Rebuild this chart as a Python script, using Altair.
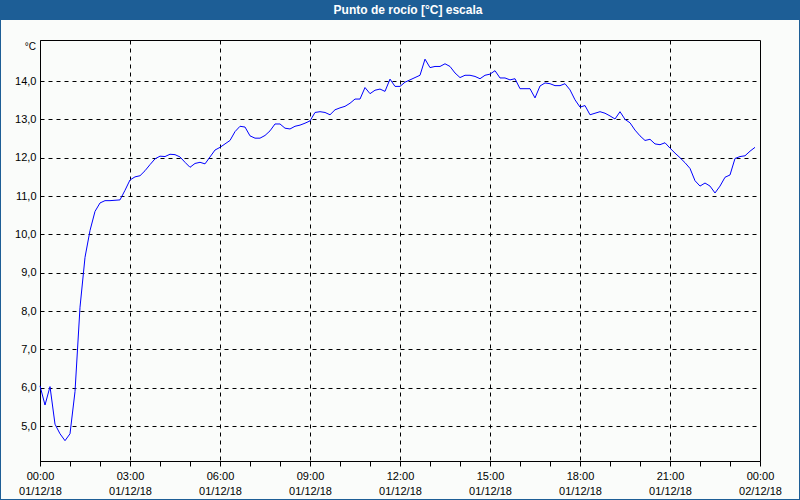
import altair as alt
import pandas as pd

# Time of each reading (minutes after 00:00 on 01/12/18, 10-minute steps)
minutes = list(range(0, 1440, 10))

# Dew point [°C]
dew_point = [
    6.05, 5.55, 6.03, 5.05, 4.80, 4.62, 4.80, 5.90, 8.10, 9.40,
    10.10, 10.60, 10.82, 10.88, 10.88, 10.89, 10.90, 11.15, 11.42, 11.50,
    11.53, 11.66, 11.82, 11.97, 12.04, 12.03, 12.09, 12.08, 12.02, 11.88,
    11.75, 11.85, 11.88, 11.84, 12.02, 12.20, 12.27, 12.36, 12.45, 12.68,
    12.82, 12.80, 12.57, 12.51, 12.51, 12.58, 12.70, 12.88, 12.88, 12.77,
    12.75, 12.82, 12.85, 12.90, 12.96, 13.18, 13.20, 13.18, 13.12, 13.25,
    13.30, 13.34, 13.42, 13.53, 13.53, 13.83, 13.67, 13.76, 13.79, 13.73,
    14.05, 13.86, 13.86, 13.97, 14.03, 14.09, 14.15, 14.57, 14.35, 14.38,
    14.38, 14.45, 14.38, 14.21, 14.09, 14.15, 14.15, 14.12, 14.06, 14.15,
    14.18, 14.27, 14.08, 14.08, 14.03, 14.06, 13.80, 13.80, 13.80, 13.56,
    13.87, 13.95, 13.93, 13.88, 13.88, 13.93, 13.77, 13.51, 13.32, 13.36,
    13.12, 13.16, 13.20, 13.16, 13.09, 13.01, 13.20, 13.00, 12.91, 12.72,
    12.57, 12.45, 12.48, 12.36, 12.34, 12.39, 12.25, 12.12, 12.00, 11.87,
    11.72, 11.40, 11.26, 11.34, 11.26, 11.08, 11.26, 11.49, 11.55, 11.98,
    12.03, 12.05, 12.17, 12.27,
]

y_ticks = [5, 6, 7, 8, 9, 10, 11, 12, 13, 14]
x_ticks = list(range(0, 25))  # hourly ticks, labelled every 3 h
title_text = "Punto de rocío [°C] escala"
unit_text = "°C"

df = pd.DataFrame({"hora": [m / 60 for m in minutes], "valor": dew_point})

FONT = "Tahoma, 'Liberation Sans', Arial, sans-serif"
W, H = 720, 421
BG = "#fafcfa"
BLUE_BAR = "#1d5e96"

x_axis = alt.Axis(
    values=x_ticks,
    title=None,
    grid=True,
    gridColor="black",
    gridDash=[4, 4],
    gridWidth=1,
    gridOpacity={"condition": {"test": "datum.value % 3 != 0 || datum.value == 0 || datum.value == 24", "value": 0}, "value": 1},
    tickSize=5,
    tickColor="black",
    domainColor="black",
    labelExpr="datum.value % 3 == 0 ? [(datum.value % 24 < 10 ? '0' : '') + (datum.value % 24) + ':00', datum.value >= 24 ? '02/12/18' : '01/12/18'] : ''",
    labelFont=FONT,
    labelFontSize=11,
    labelColor="black",
    labelPadding=4,
    labelLineHeight=15,
    labelBaseline="top",
    labelFlush=False,
    labelOverlap=False,
    labelBound=False,
)

y_axis = alt.Axis(
    values=y_ticks,
    title=None,
    grid=True,
    gridColor="black",
    gridDash=[4, 4],
    gridWidth=1,
    ticks=False,
    tickSize=0,
    domainColor="black",
    labelExpr="replace(format(datum.value, '.1f'), '.', ',')",
    labelFont=FONT,
    labelFontSize=11,
    labelColor="black",
    labelPadding=4,
    labelFlush=False,
    labelOverlap=False,
)

line = alt.Chart(df).mark_line(color="#0000ff", strokeWidth=1).encode(
    x=alt.X("hora:Q", scale=alt.Scale(domain=[0, 24], nice=False, zero=False), axis=x_axis),
    y=alt.Y("valor:Q", scale=alt.Scale(domain=[4.09, 15.07], nice=False, zero=False), axis=y_axis),
)

one = alt.Data(values=[{"k": 1}])

bar = alt.Chart(one).mark_rect(color=BLUE_BAR).encode(
    x=alt.value(-40), x2=alt.value(760), y=alt.value(-40), y2=alt.value(-20)
)

title = alt.Chart(one).mark_text(
    text=title_text, color="white", fontWeight="bold", fontSize=12, font=FONT,
    align="center", baseline="middle",
).encode(x=alt.value(368), y=alt.value(-30))

unit = alt.Chart(one).mark_text(
    text=unit_text, color="black", fontSize=10, font=FONT, align="right", baseline="middle",
).encode(x=alt.value(-4), y=alt.value(7))

border = alt.Chart(one).mark_rect(fill=None, stroke=BLUE_BAR, strokeWidth=2, filled=False).encode(
    x=alt.value(-40), x2=alt.value(760), y=alt.value(-40), y2=alt.value(460)
)

chart = alt.layer(line, bar, title, unit, border).properties(
    width=W,
    height=H,
    autosize=alt.AutoSizeParams(type="none"),
    padding={"left": 40, "top": 40, "right": 40, "bottom": 39},
    background=BG,
).configure_view(
    stroke="black", strokeWidth=1, fill=BG
)

chart.save("out.html", embed_options={"renderer": "svg", "actions": False})
